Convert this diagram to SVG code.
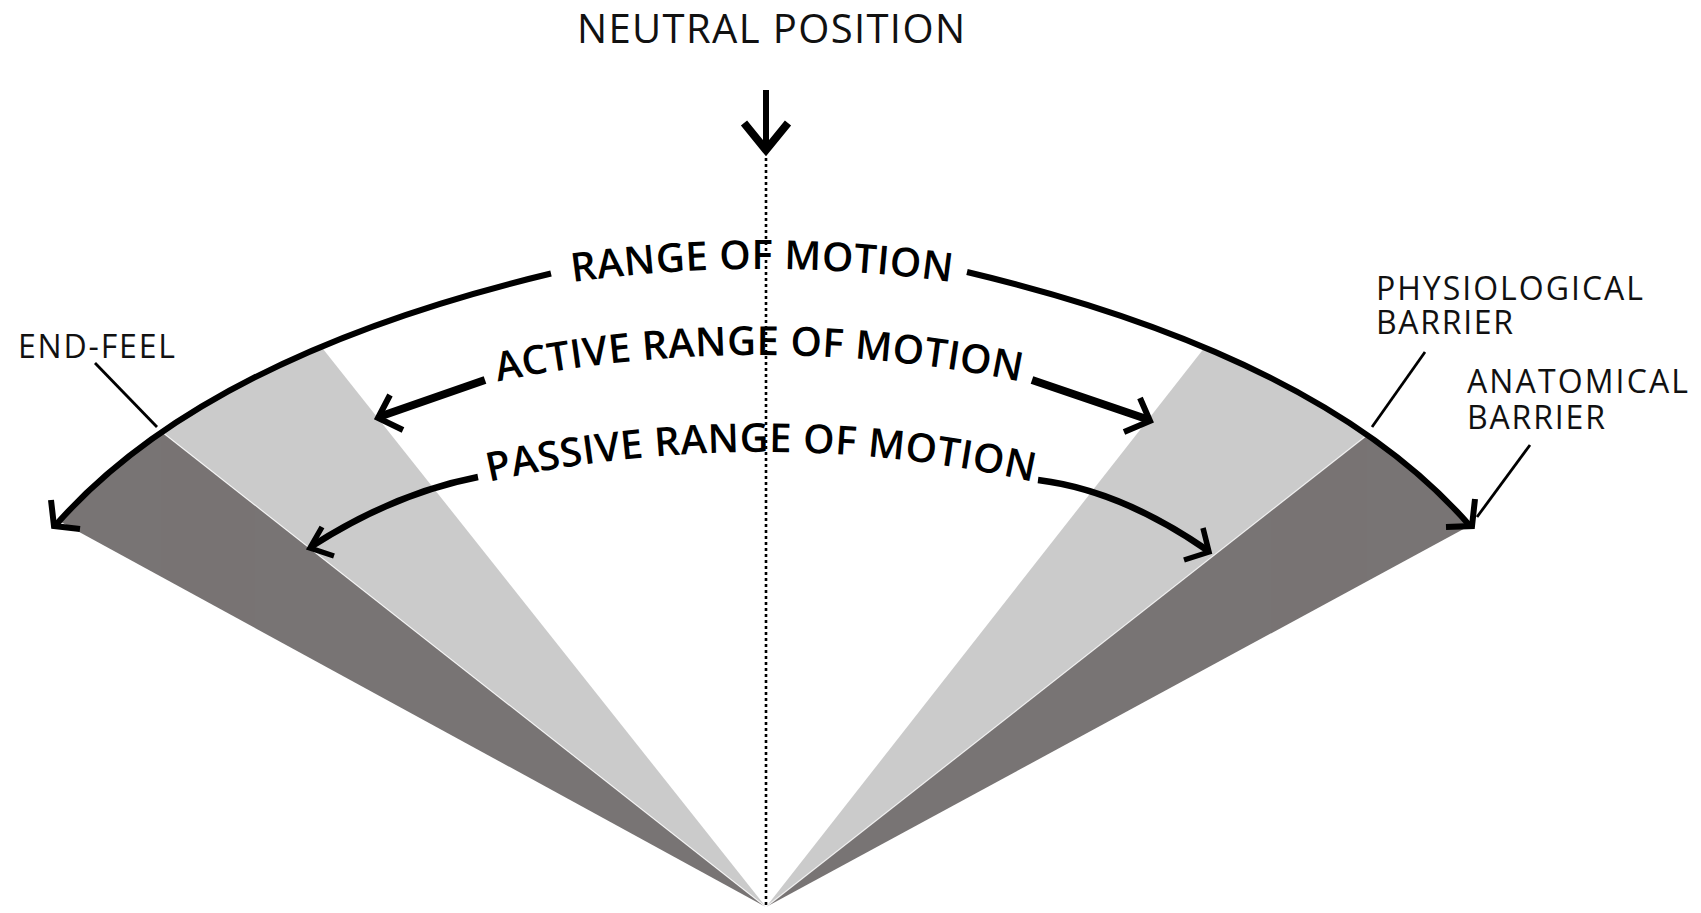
<svg xmlns="http://www.w3.org/2000/svg" xmlns:xlink="http://www.w3.org/1999/xlink" width="1701" height="913" viewBox="0 0 1701 913">
<style>
.lbl{font-family:"Open Sans","Noto Sans","Liberation Sans",sans-serif;fill:#111;}
.arc{font-family:"Open Sans","Noto Sans","Liberation Sans",sans-serif;fill:#000;font-size:40px;font-weight:600;}
.ln{fill:none;stroke:#000;stroke-linejoin:miter;stroke-linecap:butt;}
.lead{fill:none;stroke:#000;stroke-width:2.8;}
.dark{fill:#787474;}
.light{fill:#cbcbcb;}
</style>
<defs>
<clipPath id="underArc">
<path d="M54,527 Q202,357 551,273.5 Q759,223 967,272 Q1324,357 1471,527 L1471,913 L54,913 Z"/>
</clipPath>
<path id="tp1" d="M450,305.1 A1366,1366 0 0 1 1074,305.1"/>
<path id="tp2" d="M429,397.6 A1300,1300 0 0 1 1089,397.6"/>
<path id="tp3" d="M421,498.8 A1259,1259 0 0 1 1101,498.8"/>
</defs>
<rect width="1701" height="913" fill="#fff"/>

<g id="sectors" clip-path="url(#underArc)">
<polygon class="dark" points="766,907 -66.8,452.2 41.2,337"/>
<polygon class="light" points="766,907 41.2,337 231.6,233.8"/>
<polygon class="light" points="766,907 1292.8,235 1486,341.8"/>
<polygon class="dark" points="766,907 1486,341.8 1601,454.6"/>
<line x1="766" y1="907" x2="162" y2="432" stroke="#fff" stroke-width="1.2" opacity="0.8"/>
<line x1="766" y1="907" x2="1366" y2="436" stroke="#fff" stroke-width="1.2" opacity="0.8"/>
</g>

<g id="neutral-position">
<text class="lbl" x="771" y="43" font-size="40" text-anchor="middle" textLength="388" lengthAdjust="spacing">NEUTRAL POSITION</text>
</g>

<g id="range-of-motion">
<text class="arc"><textPath xlink:href="#tp1" href="#tp1" startOffset="50%" text-anchor="middle" textLength="380" lengthAdjust="spacing">RANGE OF MOTION</textPath></text>
</g>
<g id="active-range">
<text class="arc"><textPath xlink:href="#tp2" href="#tp2" startOffset="50%" text-anchor="middle" textLength="526" lengthAdjust="spacing">ACTIVE RANGE OF MOTION</textPath></text>
</g>
<g id="passive-range">
<text class="arc"><textPath xlink:href="#tp3" href="#tp3" startOffset="50%" text-anchor="middle" textLength="548" lengthAdjust="spacing">PASSIVE RANGE OF MOTION</textPath></text>
</g>

<g id="end-feel">
<text class="lbl" x="18" y="358" font-size="32" textLength="157" lengthAdjust="spacing">END-FEEL</text>
</g>
<g id="physiological-barrier">
<text class="lbl" x="1376" y="300" font-size="32" textLength="267" lengthAdjust="spacing">PHYSIOLOGICAL</text>
<text class="lbl" x="1376" y="334" font-size="32" textLength="137" lengthAdjust="spacing">BARRIER</text>
</g>
<g id="anatomical-barrier">
<text class="lbl" x="1467" y="393" font-size="32" textLength="221" lengthAdjust="spacing">ANATOMICAL</text>
<text class="lbl" x="1467" y="429" font-size="32" textLength="138" lengthAdjust="spacing">BARRIER</text>
</g>

<g id="connectors">
<!-- range of motion arc -->
<path class="ln" stroke-width="6" d="M54,527 Q202,357 551,273.5"/>
<path class="ln" stroke-width="6" d="M967,272 Q1324,357 1471,527"/>
<polyline class="ln" stroke-width="6" points="51,500 54,526 80,529"/>
<polyline class="ln" stroke-width="6" points="1475,499 1472,526 1446,527"/>
<!-- active -->
<path class="ln" stroke-width="8" d="M485,380 L380,416.5"/>
<polyline class="ln" stroke-width="6" points="390,395 378,418 403,430"/>
<path class="ln" stroke-width="8" d="M1032,380 L1148,419.5"/>
<polyline class="ln" stroke-width="6" points="1140,398 1150,421 1124,432"/>
<!-- passive -->
<path class="ln" stroke-width="6.5" d="M478,477 Q395,493 312,546"/>
<polyline class="ln" stroke-width="5.5" points="322,527 310,548 334,556"/>
<path class="ln" stroke-width="6.5" d="M1038,480 Q1120,490 1207,550"/>
<polyline class="ln" stroke-width="5.5" points="1203,528 1209,552 1184,560"/>
<!-- leaders -->
<line class="lead" x1="95" y1="363" x2="157" y2="427"/>
<line class="lead" x1="1425" y1="352" x2="1372" y2="427"/>
<line class="lead" x1="1530" y1="445" x2="1477" y2="517"/>
<!-- neutral arrow and axis -->
<line class="ln" stroke-width="6" x1="766" y1="90" x2="766" y2="148"/>
<polyline class="ln" stroke-width="8" points="744,123 766,150 788,123"/>
<line x1="766" y1="158" x2="766" y2="907" stroke="#000" stroke-width="2.6" stroke-dasharray="3 3"/>
</g>
</svg>
